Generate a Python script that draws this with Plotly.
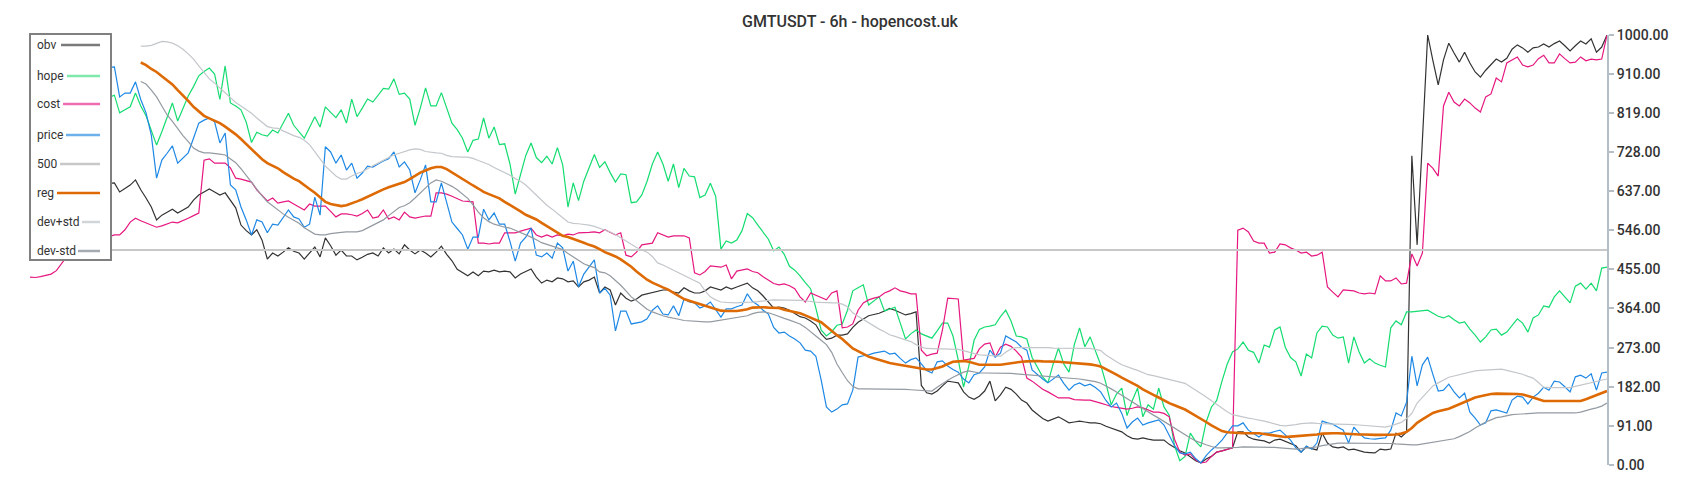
import plotly.graph_objects as go

N = 300
X = list(range(N))

TITLE = "GMTUSDT - 6h - hopencost.uk"
TICK_VALUES = [0, 91, 182, 273, 364, 455, 546, 637, 728, 819, 910, 1000]
TICK_LABELS = ["%.2f" % v for v in TICK_VALUES]
LEVEL_500 = 500

obv = [600, 615, 605, 630, 640, 625, 650, 660, 645, 670, 655, 640, 660, 650, 665, 655,
       656, 635, 643, 651, 663,
       640, 621, 600, 570, 581, 588, 595, 586, 593, 600,
       616, 628, 635, 642, 635, 628, 633, 616, 598, 558,
       545, 535, 547, 523, 479, 493, 486, 495, 505, 497,
       493, 479, 493, 507, 484, 528, 510, 488, 500, 486,
       486, 477, 483, 490, 493, 486, 505, 493, 502, 491,
       512, 500, 491, 500, 493, 484, 495, 509, 490, 475,
       455, 447, 440, 449, 440, 451, 449, 453, 449, 451,
       449, 435, 444, 450, 456, 437, 423, 430, 426, 435,
       433, 426, 428, 414, 426, 430, 437, 400, 414, 407,
       372, 400, 388, 381, 386, 395, 398, 402, 405, 407,
       407, 402, 400, 412, 405, 400, 400, 405, 414, 410,
       407, 414, 409, 414, 419, 423, 412, 405, 393, 380,
       365, 367, 365, 360, 352, 345, 342, 335, 326, 305,
       292, 295, 302, 302, 305, 320, 332, 340, 347, 350,
       353, 358, 364, 360, 355, 349, 352, 356, 185, 168,
       165, 172, 184, 195, 193, 191, 170, 158, 153, 160,
       172, 195, 149, 163, 181, 176, 165, 151, 144, 128,
       118, 108, 102, 107, 112, 105, 98, 100, 102, 100,
       98, 98, 96, 90, 86, 82, 77, 68, 62, 60,
       63, 60, 58, 58, 58, 48, 40, 33, 28, 19,
       10, 5, 14, 20, 30, 33, 36, 40, 77, 77,
       65, 60, 58, 56, 51, 58, 60, 55, 50, 45,
       30, 42, 38, 35, 74, 51, 42, 40, 42, 35,
       37, 33, 30, 29, 28, 37, 35, 37, 74, 65,
       77, 719, 512, 756, 1000, 940, 884, 942, 981, 958,
       937, 960, 935, 914, 902, 918, 932, 944, 937, 946,
       967, 977, 970, 960, 970, 972, 979, 972, 980, 986,
       975, 963, 975, 986, 979, 991, 960, 972, 1000]

hope = [790, 805, 780, 820, 845, 830, 860, 840, 855, 830, 870, 850, 835, 862, 848, 855,
        860, 819, 826, 833, 865,
        835, 812, 778, 744, 775, 810, 842, 800, 830, 858,
        880, 905, 915, 923, 909, 850, 928, 842, 835, 826,
        797, 750, 774, 768, 765, 779, 772, 795, 818, 790,
        775, 760, 785, 810, 786, 833, 820, 808, 826, 795,
        851, 810, 830, 851, 844, 860, 876, 874, 898, 862,
        865, 851, 790, 830, 877, 835, 835, 866, 830, 795,
        780, 760, 728, 755, 758, 807, 760, 786, 745, 747,
        700, 630, 675, 720, 749, 715, 703, 718, 700, 738,
        698, 600, 656, 615, 660, 690, 722, 692, 705, 680,
        658, 677, 675, 610, 612, 628, 660, 700, 728, 700,
        660, 700, 645, 690, 672, 670, 622, 628, 655, 625,
        502, 521, 516, 523, 545, 585, 575, 558, 540, 525,
        498, 507, 490,
        462, 453, 440, 424, 410, 365, 314,
        300, 310, 325, 328, 360, 405, 412, 419, 372, 382,
        391, 358, 362, 367, 330, 293, 305, 314, 305, 300,
        295, 312, 330, 330, 300, 244, 181, 230, 290, 315,
        321, 323, 326, 345, 360, 335, 300, 298, 293, 250,
        228, 205, 191, 235, 272, 235, 216, 280, 319, 275,
        298, 265, 233, 190, 140, 165, 179, 115, 150, 179,
        112, 140, 130, 179, 135, 116, 45, 10, 20, 74,
        55, 42, 100, 135, 150, 195, 235, 263,
        270, 286, 267, 262, 237, 279, 274, 314, 321, 274, 250, 240,
        207, 258, 249, 307, 323, 321, 302, 295, 298, 237,
        298, 263, 237, 247, 237, 232, 228, 319, 335, 326,
        356, 356, 357, 358, 360, 353, 346, 342, 347, 338,
        330, 333, 316, 302, 286, 298, 314, 316, 302, 309,
        325, 340, 330, 309, 342, 349, 370, 367, 391, 405,
        391, 377, 416, 423, 409, 423, 405, 458, 460]

cost = [437, 436, 438, 441, 444, 452, 470, 485, 495, 500, 505, 512, 518, 522, 526, 530,
        535, 535, 547, 565, 574,
        568, 563, 558, 553, 556, 560, 565, 563, 568, 574,
        580, 586, 709, 712, 702, 702, 702, 691, 667, 665,
        662, 658, 640, 627, 614, 621, 609, 612, 614, 607,
        600, 593, 607, 602, 602, 602, 590, 577, 584, 584,
        582, 579, 585, 593, 574, 577, 593, 572, 577, 570,
        588, 577, 574, 576, 579, 579, 633, 633, 630, 625,
        620, 614, 613, 612, 516, 516, 514, 516, 516, 540,
        540, 540, 544, 548, 551, 535, 530, 535, 530, 535,
        533, 537, 535, 540, 540, 541, 542, 540, 547, 540,
        535, 540, 488, 484, 495, 512, 514, 516, 540, 535,
        530, 533, 533, 533, 528, 447, 442, 450, 463, 461,
        460, 465, 433, 451, 453, 456, 450, 447, 438, 430,
        422, 419, 421, 417, 410, 391, 379, 400, 395, 390,
        384, 400, 405, 319, 321, 328, 360, 377, 384, 388,
        391, 400, 405, 412, 405, 402, 398, 398, 267, 254,
        258, 260, 314, 388, 387, 386, 244, 246, 248, 270,
        281, 284, 251, 274, 281, 276, 265, 251, 202, 195,
        185, 176, 170, 162, 156, 156, 156, 152, 151, 151,
        151, 148, 144, 140, 136, 134, 132, 130, 132, 135,
        133, 128, 123, 123, 120, 112, 60, 30, 23, 26,
        12, 5, 7, 20, 30, 33, 36, 40, 546, 551,
        542, 521, 516, 516, 493, 495, 514, 512, 505, 500,
        493, 495, 486, 488, 495, 414, 402, 391, 407, 406,
        405, 400, 398, 400, 398, 440, 428, 428, 435, 421,
        423, 491, 463, 493, 702, 690, 672, 835, 867, 844,
        835, 851, 842, 830, 821, 856, 863, 900, 891, 935,
        942, 949, 930, 926, 930, 945, 953, 935, 935, 956,
        945, 935, 937, 949, 940, 944, 942, 944, 1000]

price = [870, 900, 885, 920, 940, 925, 960, 950, 975, 1000, 985, 960, 940, 915, 930, 925,
         926, 856, 865, 865, 891,
         850, 819, 767, 667, 709, 725, 742, 702, 715, 726,
         760, 795, 802, 807, 798, 749, 772, 651, 640, 600,
         570, 535, 570, 565, 540, 560, 558, 575, 593, 577,
         572, 553, 560, 623, 581, 740, 728, 702, 721, 686,
         702, 667, 679, 695, 693, 700, 707, 712, 728, 693,
         705, 686, 633, 663, 698, 612, 612, 656, 610, 565,
         550, 535, 502, 530, 530, 595, 570, 586, 560, 560,
         520, 474, 516, 530, 551, 488, 484, 493, 481, 516,
         505, 451, 474, 414, 444, 460, 477, 400, 411, 395,
         312, 358, 358, 328, 330, 333, 340, 360, 370, 351,
         349, 370, 347, 386, 379, 377, 365, 370, 379, 360,
         344, 363, 363, 368, 372, 398, 380, 372, 360, 351,
         320, 307, 309, 300, 293, 284, 267, 265, 253, 198,
         135, 123, 130, 140, 142, 174, 251, 254, 256, 260,
         263, 265, 258, 260, 248, 237, 245, 249, 235, 220,
         214, 240, 242, 230, 222, 216, 200, 191, 210, 214,
         228, 267, 251, 260, 300, 292, 286, 274, 267, 221,
         210, 200, 191, 200, 209, 190, 174, 186, 191, 184,
         188, 180, 170, 150, 135, 144, 120, 86, 100, 109,
         93, 98, 102, 105, 93, 70, 45, 28, 26, 30,
         15, 5, 22, 35, 45, 58, 75, 91, 91, 98,
         81, 72, 65, 74, 74, 78, 81, 70, 58, 40,
         30, 44, 37, 51, 102, 98, 95, 88, 81, 51,
         88, 74, 63, 61, 60, 62, 63, 81, 121, 114,
         146, 253, 184, 233, 251, 210, 172, 174, 188, 170,
         156, 167, 123, 109, 93, 98, 126, 128, 125, 121,
         151, 160, 158, 142, 158, 167, 181, 174, 195, 193,
         182, 170, 205, 209, 202, 212, 174, 214, 216]

reg = [None] * 21 + [
    936, 930, 921, 914, 904, 895, 885, 872, 860, 847,
    833, 822, 812, 806, 800, 795, 787, 779, 769, 758,
    746, 735, 721, 711, 702, 696, 690, 681, 673, 666,
    660, 652, 642, 633, 622, 612, 607, 604, 602, 604,
    608, 613, 618, 624, 630, 636, 641, 646, 650, 654,
    658, 665, 673, 680, 685, 690, 693, 693, 688, 680,
    673, 666, 658, 650, 643, 635, 630, 625, 620, 612,
    605, 597, 590, 582, 577, 571, 563, 555, 547, 539,
    533, 530, 526, 522, 517, 512, 508, 502, 495, 490,
    485, 478, 470, 461, 450, 440, 431, 424, 418, 413,
    408, 401, 394, 386, 382, 378, 374, 370, 367, 362,
    359, 358, 358, 358, 360, 362, 366, 367, 367, 366,
    365, 365, 361, 358, 355, 353, 348, 343, 338, 332,
    322, 311, 302, 293, 283, 271, 265, 259, 252, 248,
    244, 240, 237, 235, 233, 231, 229, 226, 224, 222,
    222, 226, 229, 235, 240, 241, 242, 240, 236, 233,
    233, 233, 233, 233, 235, 237, 239, 240, 241, 242,
    242, 241, 241, 240, 240, 239, 238, 238, 237, 235,
    234, 232, 229, 223, 217, 210, 203, 197, 191, 184,
    176, 169, 163, 157, 150, 144, 139, 134, 129, 122,
    115, 108, 100, 92, 85, 79, 76, 75, 74, 74,
    74, 74, 74, 72, 70, 68, 66, 65, 66, 67,
    67, 68, 70, 71, 73, 74, 74, 74, 73, 72,
    72, 71, 71, 70, 70, 70, 70, 70, 71, 73,
    77, 86, 98, 106, 114, 121, 125, 128, 131, 136,
    141, 146, 152, 157, 160, 163, 165, 166, 166, 166,
    166, 165, 164, 161, 157, 153, 149, 149, 149, 149,
    149, 149, 149, 149, 153, 158, 162, 167, 172]

dev_plus = [None] * 21 + [
    974, 974, 976, 981, 985, 984, 981, 975, 967, 956,
    944, 928, 912, 898, 888, 877, 866, 853, 843, 835,
    827, 818, 807, 797, 787, 784, 783, 777, 771, 766,
    762, 755, 745, 727, 712, 695, 683, 672, 665, 665,
    672, 678, 682, 690, 696, 702, 709, 715, 721, 725,
    730, 733, 735, 734, 729, 727, 726, 725, 720, 717,
    716, 716, 716, 713, 708, 703, 699, 692, 686, 680,
    674, 666, 660, 651, 639, 627, 614, 604, 595, 586,
    575, 565, 562, 561, 560, 558, 555, 551, 546, 542,
    536, 528, 521, 514, 506, 500, 495, 485, 470, 465,
    459, 453, 446, 441, 435, 429, 423, 405, 391, 384,
    379, 378, 377, 377, 378, 378, 379, 380, 382, 383,
    384, 384, 384, 384, 384, 383, 382, 380, 379, 378,
    377, 377, 377, 374, 368, 354, 346, 338, 331, 323,
    316, 310, 303, 299, 295, 291, 287, 280, 274, 271,
    270, 270, 270, 270, 270, 269, 266, 262, 259, 256,
    255, 255, 254, 253, 262, 270, 273, 273, 274, 274,
    274, 273, 273, 272, 272, 272, 272, 272, 272, 272,
    271, 269, 266, 256, 247, 240, 233, 228, 224, 220,
    215, 210, 208, 205, 203, 200, 197, 193, 190, 182,
    173, 166, 158, 149, 140, 132, 124, 117, 114, 111,
    109, 107, 105, 102, 99, 95, 92, 91, 92, 94,
    96, 97, 98, 97, 96, 96, 95, 95, 95, 94,
    94, 93, 92, 91, 90, 89, 88, 91, 95, 99,
    108, 120, 144, 157, 172, 184, 191, 197, 204, 207,
    210, 214, 217, 219, 220, 221, 222, 223, 223, 220,
    217, 213, 211, 206, 202, 192, 181, 180, 180, 179,
    179, 180, 183, 186, 189, 191, 194, 197, 200]

dev_minus = [None] * 21 + [
    892, 886, 872, 856, 835, 814, 799, 782, 766, 752,
    737, 730, 726, 726, 725, 723, 721, 712, 703, 689,
    673, 656, 640, 626, 612, 602, 592, 584, 576, 569,
    562, 552, 544, 537, 535, 535, 538, 540, 541, 542,
    542, 542, 545, 551, 557, 563, 570, 580, 589, 599,
    603, 610, 621, 632, 645, 656, 663, 660, 654, 648,
    640, 630, 620, 605, 588, 575, 566, 560, 556, 553,
    551, 546, 541, 536, 530, 524, 517, 513, 509, 506,
    501, 492, 484, 477, 468, 463, 459, 449, 447, 440,
    430, 418, 405, 391, 382, 372, 362, 356, 351, 347,
    344, 342, 339, 336, 335, 334, 333, 333, 333, 335,
    337, 338, 340, 343, 345, 347, 352, 355, 356, 354,
    350, 345, 341, 337, 332, 328, 320, 311, 300, 290,
    280, 262, 235, 215, 196, 183, 177, 177, 177, 177,
    177, 177, 177, 177, 177, 176, 175, 174, 174, 172,
    172, 181, 190, 197, 204, 210, 216, 219, 217, 214,
    214, 214, 214, 214, 213, 213, 212, 211, 210, 209,
    208, 207, 207, 206, 205, 204, 203, 201, 200, 198,
    196, 194, 190, 184, 177, 170, 162, 155, 148, 140,
    132, 124, 116, 109, 101, 94, 86, 78, 70, 63,
    56, 51, 47, 43, 40, 40, 40, 40, 41, 42,
    42, 42, 42, 42, 42, 41, 40, 39, 38, 37,
    38, 39, 41, 42, 45, 47, 49, 51, 51, 51,
    51, 51, 51, 51, 51, 51, 51, 50, 49, 48,
    47, 47, 47, 49, 51, 53, 55, 57, 59, 61,
    66, 72, 78, 86, 94, 100, 105, 110, 112, 115,
    117, 118, 119, 120, 121, 121, 121, 121, 121, 121,
    121, 121, 121, 123, 127, 130, 133, 137, 144]

level = [LEVEL_500] * N

series = [
    ("obv", obv, "#333333", 1.2, "#7a7a7a", 61),
    ("hope", hope, "#14dc70", 1.2, "#7fe9ab", 67),
    ("cost", cost, "#e6177f", 1.2, "#ef6cb0", 63),
    ("price", price, "#1e88e5", 1.2, "#6cb0ec", 66),
    ("500", level, "#c8c8c8", 1.8, "#c8c8c8", 60),
    ("reg", reg, "#dd6a04", 2.6, "#dd6a04", 57),
    ("dev+std", dev_plus, "#c3c7cb", 1.2, "#d2d5d8", 82),
    ("dev-std", dev_minus, "#939aa1", 1.2, "#a4aab0", 78),
]

fig = go.Figure()
for name, ys, color, width, _, _ in series:
    fig.add_trace(go.Scatter(x=X, y=ys, mode="lines", name=name,
                             line=dict(color=color, width=width),
                             hoverinfo="skip", showlegend=False))

# page offset of the figure (default body margin) and page geometry of the plot area
OFF = 8
FIG_W, FIG_H = 1700 - OFF, 500 - OFF
L, R, T, B = 30, 1607, 35, 465   # page pixels
def px(xp):
    return (xp - L) / (R - L)
def py(yp):
    return (B - yp) / (B - T)

shapes = [dict(type="rect", xref="paper", yref="paper",
               x0=px(30), x1=px(111), y0=py(260), y1=py(34),
               fillcolor="white", line=dict(color="#808080", width=2), layer="above")]
annotations = []
item_y = [45, 76, 104, 135, 164, 193, 222, 251]
for (name, _, _, _, lcolor, lx0), yy in zip(series, item_y):
    shapes.append(dict(type="line", xref="paper", yref="paper",
                       x0=px(lx0), x1=px(100), y0=py(yy), y1=py(yy),
                       line=dict(color=lcolor, width=2.5), layer="above"))
    annotations.append(dict(xref="paper", yref="paper", x=px(35), y=py(yy),
                            xanchor="left", yanchor="middle", text=name, showarrow=False,
                            font=dict(family="Roboto", size=12, color="#333333")))

fig.update_layout(
    width=FIG_W, height=FIG_H,
    margin=dict(l=L - OFF, r=FIG_W - (R - OFF), t=T - OFF, b=FIG_H - (B - OFF)),
    paper_bgcolor="white", plot_bgcolor="white",
    showlegend=False,
    title=dict(text=TITLE, x=(850 - OFF) / FIG_W, xref="container", xanchor="center",
               y=1 - (21 - OFF) / FIG_H, yref="container", yanchor="middle",
               font=dict(family="Roboto", size=16, color="#333333", weight=500)),
    xaxis=dict(visible=False, range=[0, N - 1]),
    yaxis=dict(side="right", range=[0, 1000], tickvals=TICK_VALUES, ticktext=TICK_LABELS,
               showline=True, linecolor="#b4bec6", linewidth=2,
               ticks="outside", ticklen=5, tickcolor="#b4bec6", tickwidth=1.5,
               showgrid=False, zeroline=False,
               tickfont=dict(family="Roboto", size=14, color="#333333", weight=500)),
    shapes=shapes,
    annotations=annotations,
)

fig.write_html("out.html")
